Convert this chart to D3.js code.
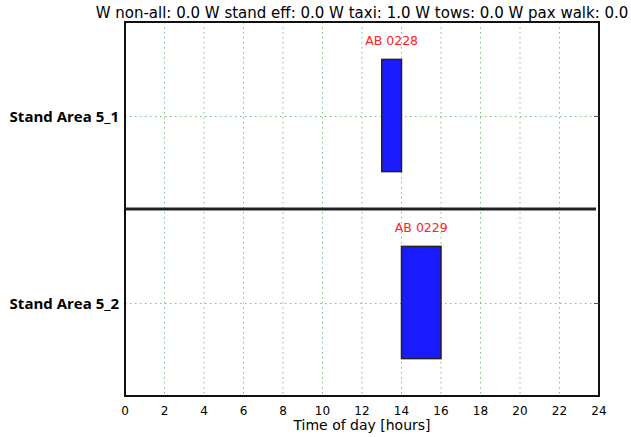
<!DOCTYPE html>
<html>
<head>
<meta charset="utf-8">
<script src="https://cdn.jsdelivr.net/npm/d3@7"></script>
<style>
    body { margin: 0; background: #fff; }
    svg { display: block; }
</style>
</head>
<body>
<div id="chart"></div>
<script>
// 1. Data
var stands = ["Stand Area 5_1", "Stand Area 5_2"];
var flights = ["AB 0228", "AB 0229"];
var flightStand = [0, 1];       // index into stands
var flightStart = [13, 14];     // hours
var flightEnd = [14, 16];       // hours
var xTicks = [0, 2, 4, 6, 8, 10, 12, 14, 16, 18, 20, 22, 24];
var titleText = "W non-all: 0.0 W stand eff: 0.0 W taxi: 1.0 W tows: 0.0 W pax walk: 0.0";
var xLabel = "Time of day [hours]";

// 2. Layout
var width = 631, height = 437;
var margin = { top: 22, right: 32, bottom: 41, left: 125 };
var plotW = width - margin.left - margin.right;
var plotH = height - margin.top - margin.bottom;

var xScale = d3.scaleLinear().domain([0, 24]).range([0, plotW]);
// each stand gets one unit band, first stand on top
var yScale = d3.scaleLinear().domain([0, stands.length]).range([0, plotH]);

var svg = d3.select("#chart").append("svg")
    .attr("width", width)
    .attr("height", height);

var g = svg.append("g")
    .attr("transform", "translate(" + margin.left + "," + margin.top + ")");

// 3. Grid lines (green dotted)
g.append("g").selectAll("line")
    .data(xTicks.slice(1, -1))
    .enter().append("line")
    .attr("x1", d => xScale(d)).attr("x2", d => xScale(d))
    .attr("y1", 0).attr("y2", plotH)
    .attr("stroke", "#4caf50").attr("stroke-opacity", 0.75)
    .attr("stroke-width", 1)
    .attr("stroke-dasharray", "1.5,3.5");

g.append("g").selectAll("line")
    .data(stands)
    .enter().append("line")
    .attr("x1", 0).attr("x2", plotW)
    .attr("y1", (d, i) => Math.round(yScale(i + 0.5)) + 0.5)
    .attr("y2", (d, i) => Math.round(yScale(i + 0.5)) + 0.5)
    .attr("stroke", "#4caf50").attr("stroke-opacity", 0.75)
    .attr("stroke-width", 1)
    .attr("stroke-dasharray", "1.5,3.5");

// 4. Separator between stands
g.append("g").selectAll("line")
    .data(stands.slice(1))
    .enter().append("line")
    .attr("x1", 0).attr("x2", xScale(23.85))
    .attr("y1", (d, i) => yScale(i + 1))
    .attr("y2", (d, i) => yScale(i + 1))
    .attr("stroke", "#222").attr("stroke-width", 3);

// 5. Bars
g.append("g").selectAll("rect")
    .data(flights)
    .enter().append("rect")
    .attr("x", (d, i) => xScale(flightStart[i]))
    .attr("width", (d, i) => xScale(flightEnd[i]) - xScale(flightStart[i]))
    .attr("y", (d, i) => yScale(flightStand[i] + 0.2))
    .attr("height", yScale(0.6))
    .attr("fill", "#1a1aff")
    .attr("stroke", "#222")
    .attr("stroke-width", 1.5);

// 6. Flight labels
g.append("g").selectAll("text")
    .data(flights)
    .enter().append("text")
    .attr("x", (d, i) => xScale((flightStart[i] + flightEnd[i]) / 2))
    .attr("y", (d, i) => yScale(flightStand[i] + 0.2) - 14)
    .attr("text-anchor", "middle")
    .attr("fill", "#ff2020")
    .style("font-family", "DejaVu Sans")
    .style("font-size", "12.5px")
    .text(d => d);

// 7. Frame
g.append("rect")
    .attr("x", 0).attr("y", 0)
    .attr("width", plotW).attr("height", plotH)
    .attr("fill", "none")
    .attr("stroke", "#111")
    .attr("stroke-width", 2);

// 8. Tick marks and labels
g.append("g").selectAll("line")
    .data(stands)
    .enter().append("line")
    .attr("x1", plotW - 5).attr("x2", plotW)
    .attr("y1", (d, i) => Math.round(yScale(i + 0.5)) + 0.5)
    .attr("y2", (d, i) => Math.round(yScale(i + 0.5)) + 0.5)
    .attr("stroke", "#555");

g.append("g").selectAll("text")
    .data(stands)
    .enter().append("text")
    .attr("x", -6)
    .attr("y", (d, i) => yScale(i + 0.5) + 6)
    .attr("text-anchor", "end")
    .style("font-family", "Open Sans")
    .style("font-weight", "bold")
    .style("font-size", "15px")
    .text(d => d);

g.append("g").selectAll("text")
    .data(xTicks)
    .enter().append("text")
    .attr("x", d => xScale(d))
    .attr("y", plotH + 19)
    .attr("text-anchor", "middle")
    .style("font-family", "DejaVu Sans")
    .style("font-size", "12px")
    .text(d => d);

// 9. Axis label and title
g.append("text")
    .attr("x", plotW / 2)
    .attr("y", plotH + 34)
    .attr("text-anchor", "middle")
    .style("font-family", "DejaVu Sans")
    .style("font-size", "14px")
    .text(xLabel);

g.append("text")
    .attr("x", plotW / 2)
    .attr("y", -4)
    .attr("text-anchor", "middle")
    .style("font-family", "DejaVu Sans")
    .style("font-size", "15px")
    .text(titleText);
</script>
</body>
</html>
